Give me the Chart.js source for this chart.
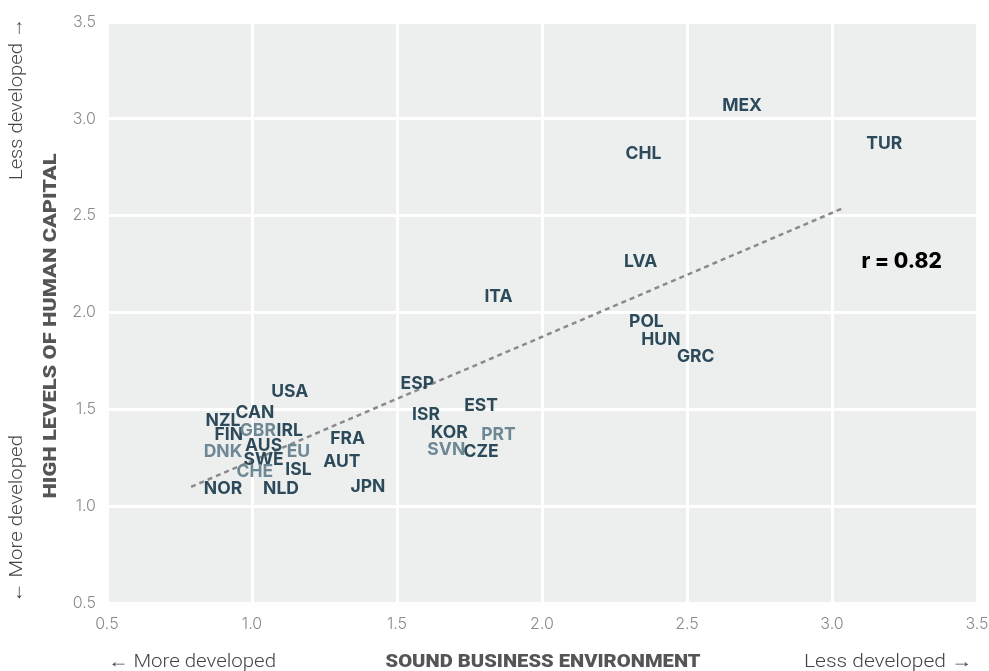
<!DOCTYPE html>
<html>
<head>
<meta charset="utf-8">
<script src="https://cdn.jsdelivr.net/npm/chart.js@4.4.1/dist/chart.umd.min.js"></script>
<style>
  html,body{margin:0;padding:0;background:#fff;}
  #wrap{width:989px;height:671px;position:relative;}
</style>
</head>
<body>
<div id="wrap"><canvas id="c" width="989" height="671"></canvas></div>
<script>
// ---- Data ----
const countries = ["MEX","TUR","CHL","LVA","ITA","POL","HUN","GRC","ESP","EST","ISR","KOR","PRT","SVN","CZE","FRA","AUT","JPN","USA","CAN","NZL","FIN","GBR","IRL","AUS","DNK","EU","SWE","CHE","ISL","NOR","NLD"];
const businessEnv = [2.69,3.18,2.35,2.34,1.85,2.36,2.41,2.53,1.57,1.79,1.60,1.68,1.85,1.67,1.79,1.33,1.31,1.40,1.13,1.01,0.90,0.92,1.02,1.13,1.04,0.90,1.16,1.04,1.01,1.16,0.90,1.10];
const humanCapital = [3.07,2.87,2.82,2.26,2.08,1.95,1.86,1.77,1.63,1.52,1.47,1.38,1.37,1.29,1.28,1.35,1.23,1.10,1.59,1.48,1.44,1.37,1.39,1.39,1.31,1.28,1.28,1.24,1.18,1.19,1.09,1.09];
const lightLabels = ["GBR","DNK","CHE","EU","PRT","SVN"];
const trendX = [0.79, 3.04];
const trendY = [1.10, 2.54];
const xTicks = [0.5,1.0,1.5,2.0,2.5,3.0,3.5];
const yTicks = [0.5,1.0,1.5,2.0,2.5,3.0,3.5];
const rLabel = "r = 0.82";
const rPos = [3.24, 2.26];

const DARK = "#2c4a5a";
const LIGHT = "#6d8794";

const pointData = countries.map((c,i)=>({x:businessEnv[i], y:humanCapital[i], label:c}));
const trendData = trendX.map((x,i)=>({x:x, y:trendY[i]}));

function drawFitted(ctx, text, x, y, font, color, targetW, align){
  ctx.save();
  ctx.font = font;
  ctx.fillStyle = color;
  ctx.textBaseline = "middle";
  const w = ctx.measureText(text).width;
  const s = targetW ? targetW / w : 1;
  ctx.translate(x, y);
  ctx.scale(s, 1);
  ctx.textAlign = align || "center";
  ctx.fillText(text, 0, 0);
  ctx.restore();
}

const bgPlugin = {
  id: "bg",
  beforeDraw(chart){
    const {ctx, chartArea:a} = chart;
    ctx.save();
    ctx.fillStyle = "#edefef";
    ctx.fillRect(a.left, a.top, a.right-a.left, a.bottom-a.top);
    ctx.restore();
  }
};

const labelPlugin = {
  id: "labels",
  afterDatasetsDraw(chart){
    const {ctx, scales:{x, y}} = chart;
    ctx.save();
    ctx.font = "bold 17.5px Inter, Roboto, sans-serif";
    ctx.textAlign = "center";
    ctx.textBaseline = "middle";
    pointData.forEach(p=>{
      ctx.fillStyle = lightLabels.includes(p.label) ? LIGHT : DARK;
      ctx.fillText(p.label, x.getPixelForValue(p.x), y.getPixelForValue(p.y));
    });
    ctx.fillStyle = "#000";
    ctx.font = "800 21px Inter, sans-serif";
    ctx.fillText(rLabel, x.getPixelForValue(rPos[0]), y.getPixelForValue(rPos[1]));
    ctx.restore();

    const lightFont = "300 18px Roboto, sans-serif";
    const boldFont = "900 18px Roboto, sans-serif";
    // x axis titles
    drawFitted(ctx, "\u2190 More developed", 108, 662, lightFont, "#444", 168, "left");
    drawFitted(ctx, "SOUND BUSINESS ENVIRONMENT", 543, 662, boldFont, "#555", 315, "center");
    drawFitted(ctx, "Less developed \u2192", 972, 662, lightFont, "#444", 168, "right");
    // y axis titles (rotated)
    ctx.save();
    ctx.translate(51, 0);
    ctx.rotate(-Math.PI/2);
    drawFitted(ctx, "HIGH LEVELS OF HUMAN CAPITAL", -326, 0, boldFont, "#555", 345, "center");
    ctx.restore();
    ctx.save();
    ctx.translate(17, 0);
    ctx.rotate(-Math.PI/2);
    drawFitted(ctx, "Less developed \u2192", -18, 0, lightFont, "#444", 162, "right");
    drawFitted(ctx, "\u2190 More developed", -603, 0, lightFont, "#444", 168, "left");
    ctx.restore();
  }
};

new Chart(document.getElementById("c"), {
  type: "scatter",
  data: {
    datasets: [
      {
        label: "countries",
        data: pointData,
        pointRadius: 0,
        pointHoverRadius: 0,
        showLine: false
      },
      {
        label: "trend",
        data: trendData,
        showLine: true,
        borderColor: "#8a8a8e",
        borderWidth: 2.5,
        borderDash: [5,4],
        pointRadius: 0,
        fill: false
      }
    ]
  },
  options: {
    responsive: false,
    animation: false,
    layout: { padding: { left: 0, right: 0, top: 22, bottom: 28 } },
    plugins: { legend: { display: false }, tooltip: { enabled: false } },
    scales: {
      x: {
        type: "linear",
        min: 0.5, max: 3.5,
        afterBuildTicks(scale){ scale.ticks = xTicks.map(v=>({value:v})); },
        afterFit(scale){ scale.height = 40; scale.paddingRight = 12; },
        grid: { color: "#ffffff", lineWidth: 3, drawTicks: false },
        border: { display: false },
        ticks: {
          padding: 12,
          color: "#8a8a8a",
          font: { family: "Inter", size: 16, weight: "300" },
          callback: v => Number(v).toFixed(1)
        }
      },
      y: {
        type: "linear",
        min: 0.5, max: 3.5,
        afterBuildTicks(scale){ scale.ticks = yTicks.map(v=>({value:v})); },
        afterFit(scale){ scale.width = 107; },
        grid: { color: "#ffffff", lineWidth: 3, drawTicks: false },
        border: { display: false },
        ticks: {
          padding: 11,
          color: "#8a8a8a",
          font: { family: "Inter", size: 16, weight: "300" },
          callback: v => Number(v).toFixed(1)
        }
      }
    }
  },
  plugins: [bgPlugin, labelPlugin]
});
</script>
</body>
</html>
